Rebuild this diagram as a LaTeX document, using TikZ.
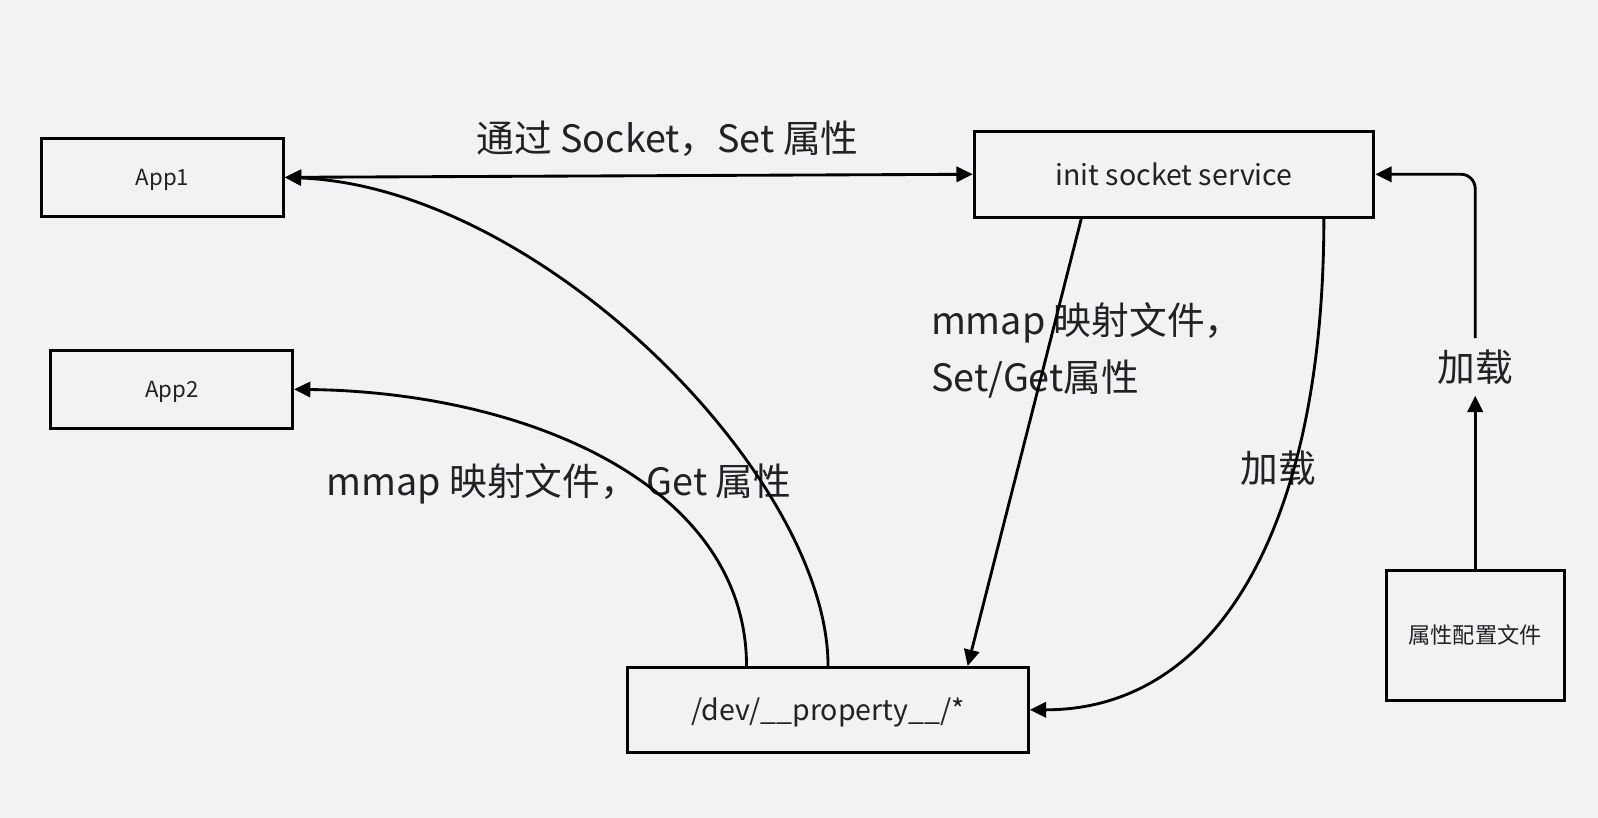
\documentclass[tikz,border=0pt]{standalone}
\usepackage{fontspec}
\setmainfont{Noto Sans CJK SC}
\usetikzlibrary{arrows.meta}
\definecolor{bgcol}{HTML}{F2F2F4}
\definecolor{inkcol}{HTML}{222222}

\begin{document}
\begin{tikzpicture}[x=1pt,y=-1pt,
    box/.style={draw,line width=3pt,inner sep=0pt,text=inkcol},
    small/.style={font=\fontsize{21.8}{26}\selectfont,text height=19.2pt,text depth=2.6pt},
    mid/.style={font=\fontsize{28}{33}\selectfont,text height=24.6pt,text depth=3.4pt},
    big/.style={font=\fontsize{37}{56}\selectfont,text=inkcol},
    link/.style={line width=2.8pt,-{Triangle[length=16pt,width=15pt]}}]
    \fill[bgcol] (0,0) rectangle (1568,802.6);
    \useasboundingbox (0,0) rectangle (1568,802.6);

    % boxes
    \node[box,small,minimum width=237pt,minimum height=76pt] (app1) at (159.5,174) {App1};
    \node[box,small,minimum width=237pt,minimum height=76pt] (app2) at (168.5,382) {App2};
    \node[box,mid,minimum width=392pt,minimum height=84pt] (init) at (1152,171) {init socket service};
    \node[box,mid,minimum width=393pt,minimum height=83pt] (dev) at (812.5,696.5) {/dev/\_\_property\_\_/*};
    \node[box,small,minimum width=175pt,minimum height=127pt] (conf) at (1447.5,623.5) {属性配置文件};
    \node[big,inner sep=11pt] (load2) at (1447.5,360) {加载};

    % labels
    \node[big] (lbsock) at (655,136) {通过 Socket，Set 属性};
    \node[big,align=left,anchor=west] (lbmmap) at (910,344) {mmap 映射文件，\\Set/Get属性};
    \node[big,anchor=west] (lbget) at (317,475) {mmap 映射文件， Get 属性};
    \node[big] (lbload) at (1254,459) {加载};

    % connectors
    \draw[link,{Triangle[length=16pt,width=15pt]}-{Triangle[length=16pt,width=15pt]}] (app1.east) -- (init.west);
    \draw[link] (dev.north) .. controls +(0,-185) and +(252,10) .. (app1.east);
    \draw[link] ([xshift=-80pt]dev.north) .. controls +(0,-175) and +(233,3) .. (app2.east);
    \draw[link] ([xshift=-91pt]init.south) -- ([xshift=137pt]dev.north);
    \draw[link] ([xshift=147pt]init.south) .. controls +(0,300) and +(185,0) .. (dev.east);
    \draw[link] (conf) -- (load2);
    \draw[link,rounded corners=14pt] (load2) |- (init);
\end{tikzpicture}
\end{document}
